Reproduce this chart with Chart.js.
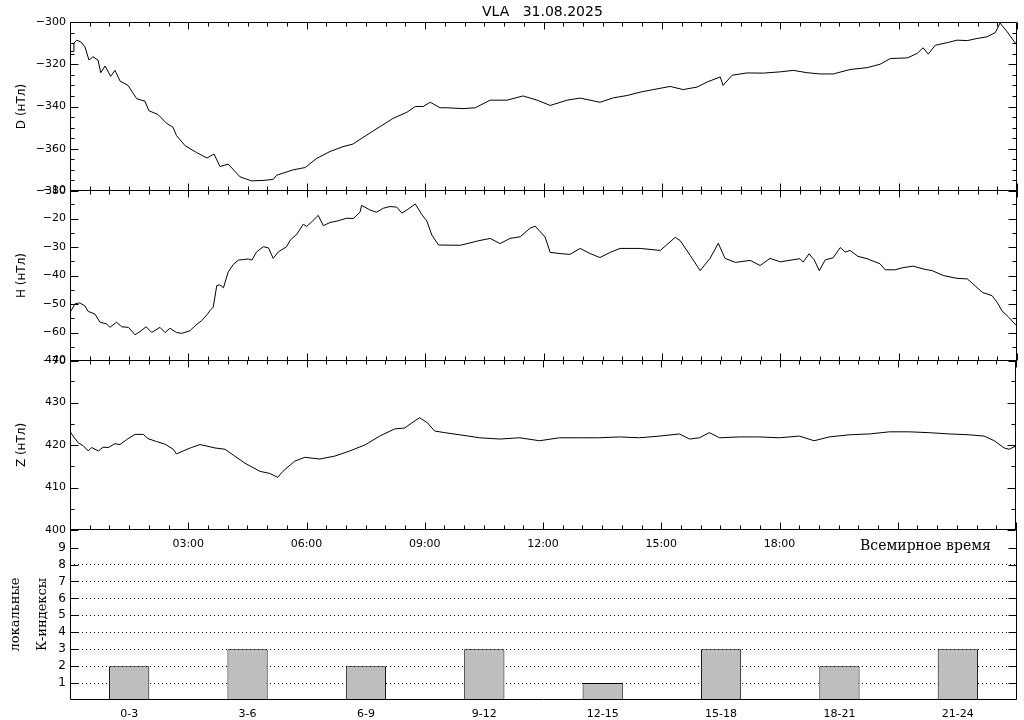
<!DOCTYPE html>
<html>
<head>
<meta charset="utf-8">
<script src="https://cdn.jsdelivr.net/npm/chart.js@4.4.1/dist/chart.umd.min.js"></script>
<style>
  body { margin: 0; background: #fff; }
  #wrap { position: relative; width: 1024px; height: 720px; overflow: hidden; background: #fff; }
  #wrap canvas { position: absolute; left: 0; top: 0; }
  .txt { position: absolute; white-space: pre; color: #000; }
  #title { left: 482px; top: 3px; font: 14px "DejaVu Sans", sans-serif; }
  #utc { left: 860px; top: 537px; font: 14px "DejaVu Serif", serif; }
</style>
</head>
<body>
<div id="wrap">
  <canvas id="cD" width="1024" height="720"></canvas>
  <canvas id="cH" width="1024" height="720"></canvas>
  <canvas id="cZ" width="1024" height="720"></canvas>
  <canvas id="cK" width="1024" height="720"></canvas>
  <div class="txt" id="title">VLA   31.08.2025</div>
  <div class="txt" id="utc">Всемирное время</div>
</div>
<script>
// D component, hours UT / nT
const dTime = [
  0, 0.08, 0.1, 0.17, 0.28, 0.38, 0.48, 0.58, 0.71, 0.78,
  0.89, 1.03, 1.14, 1.27, 1.47, 1.69, 1.9, 2.0, 2.23, 2.45,
  2.61, 2.7, 2.92, 3.21, 3.47, 3.65, 3.8, 4.01, 4.31, 4.6,
  4.89, 5.15, 5.24, 5.65, 5.96, 6.25, 6.59, 6.92, 7.17, 7.43,
  7.86, 8.19, 8.54, 8.75, 8.95, 9.13, 9.38, 9.56, 9.96, 10.27,
  10.65, 11.08, 11.48, 11.84, 12.17, 12.6, 12.93, 13.43, 13.77, 14.12,
  14.45, 14.78, 15.21, 15.54, 15.89, 16.15, 16.48, 16.55, 16.78, 17.16,
  17.57, 18.0, 18.33, 18.68, 19.01, 19.34, 19.77, 20.2, 20.53, 20.79,
  21.22, 21.47, 21.62, 21.75, 21.93, 22.23, 22.48, 22.74, 22.99, 23.24,
  23.45, 23.57, 23.75, 23.95, 24
];
const dValue = [
  -314, -314, -310, -308.6, -309.5, -311.8, -318, -316.5, -318, -324,
  -320.8, -325.7, -322.9, -328, -330, -336.3, -337.5, -342, -343.8, -348,
  -349.8, -353.8, -358.6, -361.8, -364.4, -362.5, -368.4, -367.3, -373.3, -375.2,
  -375, -374.5, -372.5, -370, -368.9, -364.6, -361.3, -359, -357.8, -354.6,
  -349.5, -345.6, -342.7, -340, -340, -338, -340.6, -340.6, -341, -340.6,
  -337, -337, -335, -337, -339.5, -337, -336, -338, -335.9, -334.8,
  -333.2, -332, -330.5, -332, -330.8, -328.4, -326, -330, -325.2, -324.1,
  -324.2, -323.6, -322.9, -324, -324.6, -324.6, -322.5, -321.6, -320, -317.3,
  -317, -314.9, -312.2, -315.2, -311, -309.8, -308.6, -308.8, -307.8, -307,
  -305, -300.5, -304.6, -309.8, -310.5
];

// H component
const hTime = [
  0, 0.03, 0.13, 0.25, 0.38, 0.46, 0.63, 0.76, 0.93, 1.01,
  1.18, 1.31, 1.48, 1.65, 1.77, 1.93, 2.07, 2.28, 2.41, 2.53,
  2.7, 2.83, 3.04, 3.17, 3.34, 3.47, 3.55, 3.63, 3.72, 3.8,
  3.89, 4.01, 4.14, 4.27, 4.39, 4.52, 4.61, 4.73, 4.9, 5.03,
  5.15, 5.28, 5.49, 5.58, 5.75, 5.91, 6.0, 6.13, 6.29, 6.42,
  6.59, 6.8, 7.01, 7.18, 7.35, 7.39, 7.6, 7.77, 7.94, 8.11,
  8.28, 8.41, 8.54, 8.75, 8.92, 9.04, 9.17, 9.34, 9.89, 10.39,
  10.65, 10.9, 11.15, 11.41, 11.66, 11.79, 12.04, 12.17, 12.42, 12.67,
  12.93, 13.18, 13.43, 13.69, 13.94, 14.45, 14.96, 15.34, 15.46, 15.72,
  15.97, 16.22, 16.43, 16.6, 16.86, 17.24, 17.49, 17.74, 18.0, 18.5,
  18.58, 18.73, 18.86, 18.99, 19.14, 19.34, 19.52, 19.65, 19.77, 19.97,
  20.2, 20.53, 20.66, 20.91, 21.09, 21.37, 21.62, 21.85, 22.13, 22.48,
  22.74, 22.89, 23.12, 23.37, 23.5, 23.62, 23.78, 23.95, 24
];
const hValue = [
  -53, -52.3, -49.9, -49.6, -50.7, -52.6, -53.5, -56.4, -57, -58.2,
  -56.4, -58, -58.2, -60.8, -59.7, -58, -60, -58.2, -60, -58.5,
  -60, -60.3, -59.4, -57.6, -55.8, -53.8, -52.3, -51.1, -43.5, -43.3,
  -44.3, -38.7, -36.1, -34.6, -34.4, -34.2, -34.6, -31.7, -29.9, -30.3,
  -34, -31.7, -29.9, -27.6, -25.5, -22, -22.8, -21.1, -18.9, -22.5,
  -21.4, -20.8, -19.9, -20, -17.8, -15.4, -17, -17.8, -16.4, -15.8,
  -16, -18.1, -17, -14.9, -18.7, -20.8, -25.8, -29.3, -29.4, -27.7,
  -27, -28.8, -27, -26.4, -23.4, -22.7, -26.5, -31.9, -32.3, -32.6,
  -30.5, -32.3, -33.7, -31.9, -30.5, -30.5, -31.2, -26.6, -27.7, -33,
  -38.3, -34, -28.7, -34, -35.4, -34.7, -36.5, -34, -35.2, -34.1,
  -35.3, -32.4, -34.5, -38.3, -34.5, -33.8, -30.2, -31.8, -31.2, -33.3,
  -34.1, -35.9, -38, -38, -37.3, -36.7, -37.7, -38.3, -40, -41,
  -41.2, -43, -45.9, -47.1, -49.5, -52.4, -54.5, -57.1, -57.5
];

// Z component
const zTime = [
  0, 0.02, 0.08, 0.21, 0.34, 0.46, 0.55, 0.72, 0.84, 0.97,
  1.14, 1.27, 1.44, 1.65, 1.86, 1.98, 2.2, 2.41, 2.62, 2.7,
  2.87, 3.08, 3.3, 3.68, 3.93, 4.18, 4.44, 4.82, 5.07, 5.27,
  5.4, 5.7, 5.96, 6.34, 6.72, 7.1, 7.48, 7.86, 8.24, 8.49,
  8.75, 8.87, 9.07, 9.25, 9.51, 9.89, 10.39, 10.9, 11.41, 11.91,
  12.42, 12.93, 13.43, 13.94, 14.45, 14.96, 15.46, 15.72, 15.97, 16.22,
  16.48, 16.98, 17.49, 18.0, 18.5, 18.88, 19.26, 19.77, 20.28, 20.79,
  21.29, 21.8, 22.31, 22.81, 23.19, 23.45, 23.7, 23.83, 24
];
const zValue = [
  423, 422.9, 422.1, 420.5, 419.8, 418.6, 419.4, 418.6, 419.5, 419.4,
  420.3, 420.1, 421.3, 422.5, 422.5, 421.5, 420.8, 420.2, 419, 417.9,
  418.6, 419.4, 420.1, 419.3, 419, 417.4, 415.7, 413.8, 413.3, 412.4,
  413.8, 416.2, 417.1, 416.7, 417.4, 418.6, 420, 422.1, 423.8, 424,
  425.7, 426.4, 425.2, 423.3, 422.9, 422.4, 421.7, 421.4, 421.7, 421,
  421.7, 421.7, 421.7, 421.9, 421.7, 422.1, 422.6, 421.4, 421.7, 422.9,
  421.7, 421.9, 421.9, 421.7, 422.1, 421, 421.9, 422.4, 422.6, 423.1,
  423.1, 422.9, 422.6, 422.4, 422.1, 421, 419.3, 419, 419.8
];

// local K indices
const kLabels = ['0-3', '3-6', '6-9', '9-12', '12-15', '15-18', '18-21', '21-24'];
const kValues = [2, 3, 2, 3, 1, 3, 2, 3];

Chart.defaults.font.family = '"DejaVu Sans", sans-serif';
Chart.defaults.font.size = 11;
Chart.defaults.color = '#000';
Chart.defaults.animation = false;
Chart.defaults.plugins.legend.display = false;
Chart.defaults.plugins.tooltip.enabled = false;

// panel borders (px rows)
const borders = [22, 190, 360, 529, 699];
const xAxisH = 20;

// frame + inward ticks on all sides
const frameTicks = {
  id: 'frameTicks',
  afterDraw(chart, args, o) {
    const { ctx, chartArea: a } = chart;
    const xs = chart.scales.x, ys = chart.scales.y;
    const L = Math.round(a.left) + 0.5, R = Math.round(a.right) - 0.5;
    const T = Math.round(a.top) + 0.5, B = Math.round(a.bottom) - 0.5;
    ctx.save();
    ctx.strokeStyle = '#000';
    ctx.lineWidth = 1;
    ctx.beginPath();
    ctx.rect(L, T, R - L, B - T);
    if (o.xMinor) {
      const n = Math.round(24 / o.xMinor);
      for (let i = 0; i <= n; i++) {
        const v = i * o.xMinor;
        const px = Math.round(xs.getPixelForValue(v)) + 0.5;
        const len = (i % Math.round(o.xMajor / o.xMinor) === 0) ? 7 : 4;
        ctx.moveTo(px, T); ctx.lineTo(px, T + len);
        ctx.moveTo(px, B); ctx.lineTo(px, B - len);
      }
    }
    const m = Math.round((o.yTo - o.yFrom) / o.yMinor);
    for (let i = 0; i <= m; i++) {
      const v = o.yFrom + i * o.yMinor;
      const py = Math.round(ys.getPixelForValue(v)) + 0.5;
      const len = (i % Math.round(o.yMajor / o.yMinor) === 0) ? 8 : 4;
      ctx.moveTo(L, py); ctx.lineTo(L + len, py);
      ctx.moveTo(R, py); ctx.lineTo(R - len, py);
    }
    ctx.stroke();
    ctx.restore();
  }
};

function fitWidth(scale) { scale.width = 70; }
function fitHeight(scale) { scale.height = xAxisH; }
function minusFmt(v) { return v < 0 ? '\u2212' + Math.abs(v) : String(v); }

function linePanel(id, idx, times, values, yMin, yMax, yStep, yTitle, showTime) {
  // hidden x axes still get the fixed height, so the bottom padding is the same for all panels
  const bottomPad = 720 - borders[idx + 1] - 1 - xAxisH;
  return new Chart(document.getElementById(id), {
    type: 'line',
    data: {
      datasets: [{
        data: times.map((t, i) => ({ x: t, y: values[i] })),
        borderColor: '#000',
        borderWidth: 1,
        pointRadius: 0,
        tension: 0,
        fill: false
      }]
    },
    options: {
      responsive: false,
      layout: { padding: { left: 0, right: 7, top: borders[idx], bottom: bottomPad } },
      scales: {
        x: {
          type: 'linear', min: 0, max: 24, afterFit: fitHeight,
          grid: { display: false, drawTicks: false },
          border: { display: false },
          ticks: {
            display: showTime,
            stepSize: 3, autoSkip: false, maxRotation: 0, padding: 8,
            callback: v => (v >= 3 && v <= 18) ? String(v).padStart(2, '0') + ':00' : ''
          }
        },
        y: {
          min: yMin, max: yMax, afterFit: fitWidth,
          grid: { display: false, drawTicks: false },
          border: { display: false },
          ticks: { stepSize: yStep, padding: 4, autoSkip: false, callback: minusFmt },
          title: { display: true, text: yTitle, padding: { top: 15, bottom: 0 }, font: { size: 12 } }
        }
      },
      plugins: {
        frameTicks: { xMinor: 0.5, xMajor: 3, yMinor: 5, yMajor: yStep, yFrom: yMin, yTo: yMax }
      }
    },
    plugins: [frameTicks]
  });
}

linePanel('cD', 0, dTime, dValue, -380, -300, 20, 'D (нТл)', false);
linePanel('cH', 1, hTime, hValue, -70, -10, 10, 'H (нТл)', false);
linePanel('cZ', 2, zTime, zValue, 400, 440, 10, 'Z (нТл)', true);

new Chart(document.getElementById('cK'), {
  type: 'bar',
  data: {
    labels: kLabels,
    datasets: [{
      data: kValues,
      backgroundColor: '#bebebe',
      borderColor: '#000',
      borderWidth: 1,
      categoryPercentage: 1,
      barPercentage: 0.34
    }]
  },
  options: {
    responsive: false,
    layout: { padding: { left: 0, right: 7, top: borders[3], bottom: 720 - borders[4] - 1 - xAxisH } },
    scales: {
      x: {
        afterFit: fitHeight,
        grid: { display: false, drawTicks: false },
        border: { display: false },
        ticks: { padding: 8, autoSkip: false, maxRotation: 0 }
      },
      y: {
        min: 0, max: 10.1, afterFit: fitWidth,
        grid: {
          drawTicks: false,
          color: c => (c.tick && c.tick.value >= 1 && c.tick.value <= 8) ? '#000' : 'rgba(0,0,0,0)'
        },
        border: { display: false, dash: [1, 3] },
        ticks: {
          stepSize: 1, padding: 4, autoSkip: false, font: { size: 12 },
          callback: v => (v >= 1 && v <= 9) ? String(v) : ''
        },
        title: {
          display: true,
          text: ['локальные', 'К-индексы'],
          font: { family: '"DejaVu Serif", serif', size: 13, lineHeight: 2.1 },
          padding: { top: 2, bottom: 0 }
        }
      }
    },
    plugins: {
      frameTicks: { yMinor: 1, yMajor: 1, yFrom: 1, yTo: 9 }
    }
  },
  plugins: [frameTicks]
});
</script>
</body>
</html>
